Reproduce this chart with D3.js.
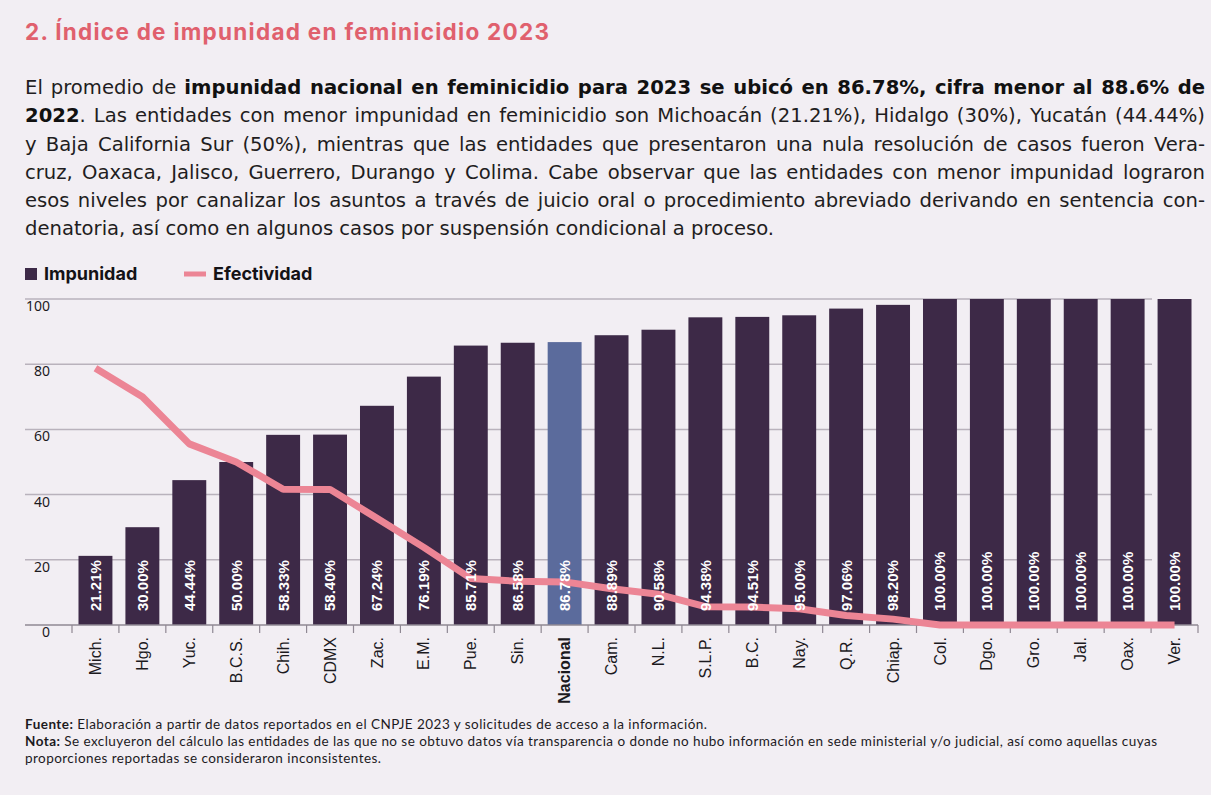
<!DOCTYPE html>
<meta charset="utf-8">
<body style="margin:0;background:#f2eef3;">
<script src="https://d3js.org/d3.v7.min.js"></script>
<style>
  #wrap { position: relative; width: 1211px; height: 795px; background: #f2eef3; overflow: hidden; }
  #wrap svg { position: absolute; left: 0; top: 0; }
  #texto { position: absolute; left: 25px; top: 74px; width: 1180px;
           font-family: "DejaVu Sans", sans-serif; font-size: 19.6px; line-height: 28.3px; color: #1f1d21; }
  #texto div { text-align: justify; text-align-last: justify; white-space: nowrap; }
  #texto div.ultima { text-align-last: left; }
  #texto b { font-weight: bold; color: #111; }
</style>
<div id="wrap">
  <svg id="chart" width="1211" height="795"></svg>
  <div id="texto"></div>
</div>
<script>

var categorias = ["Mich.", "Hgo.", "Yuc.", "B.C.S.", "Chih.", "CDMX", "Zac.", "E.M.", "Pue.", "Sin.",
                  "Nacional", "Cam.", "N.L.", "S.L.P.", "B.C.", "Nay.", "Q.R.", "Chiap.",
                  "Col.", "Dgo.", "Gro.", "Jal.", "Oax.", "Ver."];

var impunidad = [21.21, 30.00, 44.44, 50.00, 58.33, 58.40, 67.24, 76.19, 85.71, 86.58,
                 86.78, 88.89, 90.58, 94.38, 94.51, 95.00, 97.06, 98.20,
                 100, 100, 100, 100, 100, 100];

var efectividad = [78.79, 70.00, 55.56, 50.00, 41.67, 41.60, 32.76, 23.81, 14.29, 13.42,
                   13.22, 11.11, 9.42, 5.62, 5.49, 5.00, 2.94, 1.80,
                   0, 0, 0, 0, 0, 0];

var ticksY = [0, 20, 40, 60, 80, 100];

// párrafo: líneas tal como aparecen en el original
var lineas = [
  'El promedio de <b>impunidad nacional en feminicidio para 2023 se ubicó en 86.78%, cifra menor al 88.6% de</b>',
  '<b>2022</b>. Las entidades con menor impunidad en feminicidio son Michoacán (21.21%), Hidalgo (30%), Yucatán (44.44%)',
  'y Baja California Sur (50%), mientras que las entidades que presentaron una nula resolución de casos fueron Vera-',
  'cruz, Oaxaca, Jalisco, Guerrero, Durango y Colima. Cabe observar que las entidades con menor impunidad lograron',
  'esos niveles por canalizar los asuntos a través de juicio oral o procedimiento abreviado derivando en sentencia con-',
  'denatoria, así como en algunos casos por suspensión condicional a proceso.'
];

var notas = [
  {b: "Fuente:", t: " Elaboración a partir de datos reportados en el CNPJE 2023 y solicitudes de acceso a la información.", w: 682},
  {b: "Nota:", t: " Se excluyeron del cálculo las entidades de las que no se obtuvo datos vía transparencia o donde no hubo información en sede ministerial y/o judicial, así como aquellas cuyas", w: 1132},
  {b: "", t: "proporciones reportadas se consideraron inconsistentes.", w: 356}
];

var colorBarra = "#3d2947",
    colorNacional = "#5b6b9c",
    colorLinea = "#ec8595";

d3.select("#texto").selectAll("div")
  .data(lineas)
  .enter().append("div")
  .attr("class", function (d, i) { return i == lineas.length - 1 ? "ultima" : null; })
  .html(function (d) { return d; });

var svg = d3.select("#chart");

svg.append("text")
  .attr("x", 25).attr("y", 40)
  .attr("font-family", "Inter, sans-serif")
  .attr("font-weight", 700)
  .attr("font-size", 22.5)
  .attr("textLength", 524)
  .attr("lengthAdjust", "spacing")
  .attr("fill", "#e0606d")
  .text("2. Índice de impunidad en feminicidio 2023");

// leyenda
var ley = svg.append("g").attr("font-family", "Inter, sans-serif").attr("font-weight", 700).attr("font-size", 18).attr("fill", "#141216");
ley.append("rect").attr("x", 25).attr("y", 268).attr("width", 12).attr("height", 12).attr("fill", colorBarra);
ley.append("text").attr("x", 44).attr("y", 280).text("Impunidad");
ley.append("line").attr("x1", 184).attr("x2", 206).attr("y1", 274).attr("y2", 274)
  .attr("stroke", colorLinea).attr("stroke-width", 5);
ley.append("text").attr("x", 213).attr("y", 280).text("Efectividad");

var x = d3.scaleBand()
  .domain(categorias)
  .range([72, 1198])
  .paddingInner(0.277)
  .paddingOuter(0.1385);

var y = d3.scaleLinear()
  .domain([0, 100])
  .range([625, 299]);

// rejilla
svg.append("g").selectAll("line")
  .data(ticksY.filter(function (d) { return d > 0; }))
  .enter().append("line")
  .attr("x1", 25).attr("x2", 1152)
  .attr("y1", function (d) { return y(d); })
  .attr("y2", function (d) { return y(d); })
  .attr("stroke", "#b9b2bc").attr("stroke-width", 1.5);

svg.append("g").selectAll("text")
  .data(ticksY)
  .enter().append("text")
  .attr("x", 50)
  .attr("y", function (d) { return y(d) + 7; })
  .attr("dy", "0.35em")
  .attr("text-anchor", "end")
  .attr("font-family", "'Noto Sans', sans-serif")
  .attr("font-size", 14)
  .attr("fill", "#1c1a1e")
  .text(function (d) { return d; });

// barras
svg.append("g").selectAll("rect")
  .data(categorias)
  .enter().append("rect")
  .attr("x", function (d) { return x(d); })
  .attr("width", x.bandwidth())
  .attr("y", function (d, i) { return y(impunidad[i]); })
  .attr("height", function (d, i) { return y(0) - y(impunidad[i]); })
  .attr("fill", function (d) { return d == "Nacional" ? colorNacional : colorBarra; });

// eje x
var paso = x.step();
svg.append("line")
  .attr("x1", 25).attr("x2", 1198).attr("y1", y(0)).attr("y2", y(0))
  .attr("stroke", "#8f8893").attr("stroke-width", 1.5);

var bordes = categorias.map(function (d) { return x(d) - paso * x.paddingInner() / 2; });
bordes.push(x.range()[1]);
svg.append("g").selectAll("line")
  .data(bordes)
  .enter().append("line")
  .attr("x1", function (d) { return d; }).attr("x2", function (d) { return d; })
  .attr("y1", y(0)).attr("y2", y(0) + 8)
  .attr("stroke", "#8f8893").attr("stroke-width", 1.2);

var ejeX = svg.append("g")
  .attr("transform", "translate(0," + y(0) + ")")
  .call(d3.axisBottom(x).tickSize(0));
ejeX.select(".domain").remove();
ejeX.selectAll("text")
  .attr("transform", "rotate(-90)")
  .attr("x", -12).attr("y", 0).attr("dy", "0.35em")
  .attr("text-anchor", "end")
  .attr("font-family", "'Liberation Sans', Arial, sans-serif")
  .attr("font-size", 16)
  .attr("fill", "#1c1a1e")
  .attr("font-weight", function (d) { return d == "Nacional" ? "bold" : null; });

// línea de efectividad
var linea = d3.line()
  .x(function (d, i) { return x(categorias[i]) + x.bandwidth() / 2; })
  .y(function (d) { return y(d); });

svg.append("path")
  .datum(efectividad)
  .attr("d", linea)
  .attr("fill", "none")
  .attr("stroke", colorLinea)
  .attr("stroke-width", 7)
  .attr("stroke-linejoin", "round");

// etiquetas de las barras
svg.append("g").selectAll("text")
  .data(categorias)
  .enter().append("text")
  .attr("transform", function (d) {
    return "translate(" + (x(d) + x.bandwidth() / 2) + "," + 611 + ") rotate(-90)";
  })
  .attr("dy", "0.36em")
  .attr("font-family", "'Liberation Sans', Arial, sans-serif")
  .attr("font-weight", "bold")
  .attr("font-size", 15)
  .attr("fill", "#ffffff")
  .text(function (d, i) { return impunidad[i].toFixed(2) + "%"; });

// fuente y nota
var pie = svg.append("g")
  .attr("font-family", "Lato, sans-serif")
  .attr("font-size", 13.5)
  .attr("fill", "#1c1a1e");
pie.selectAll("text")
  .data(notas)
  .enter().append("text")
  .attr("x", 25)
  .attr("y", function (d, i) { return 729 + i * 17; })
  .attr("textLength", function (d) { return d.w; })
  .attr("lengthAdjust", "spacing")
  .each(function (d) {
    var t = d3.select(this);
    if (d.b) t.append("tspan").attr("font-weight", 700).text(d.b);
    t.append("tspan").text(d.t);
  });

</script>
